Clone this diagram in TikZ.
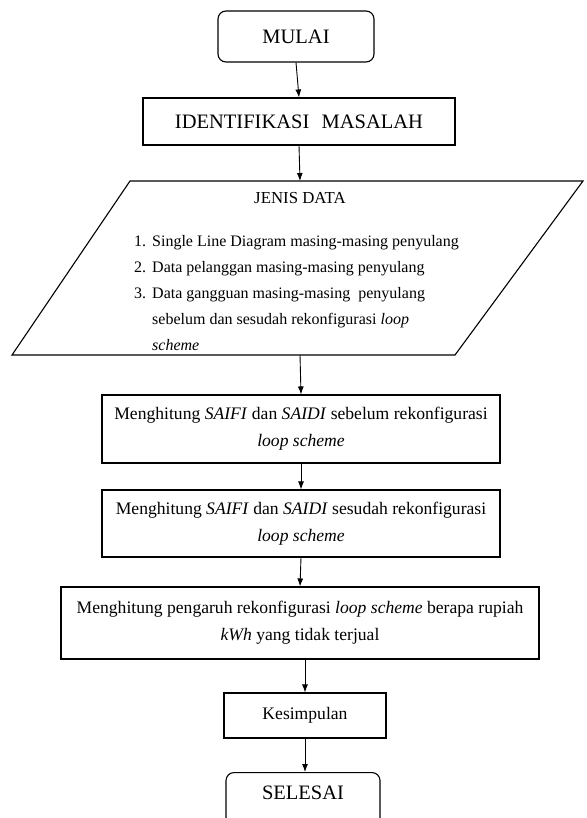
\documentclass[tikz,border=0pt]{standalone}
\usepackage{fontspec}
\setmainfont{Liberation Serif}
\usetikzlibrary{arrows.meta}
\begin{document}
\begin{tikzpicture}[x=1pt,y=1pt,
  box/.style={draw, line width=1.1pt, inner sep=0pt, align=center},
  term/.style={box, rounded corners=8pt},
  arr/.style={-{Latex[length=8pt,width=6pt]}, line width=0.9pt},
  big/.style={font=\fontsize{20.5}{24}\selectfont},
  mid/.style={font=\fontsize{17.6}{27}\selectfont}]
\useasboundingbox (0,0) rectangle (586,-818);

\node[term, big, minimum width=156pt, minimum height=51pt] (start) at (296,-36.5) {MULAI};
\node[box, big, minimum width=312pt, minimum height=47pt] (ident) at (299,-121.5) {IDENTIFIKASI\hspace{0.6em}MASALAH};

% parallelogram
\coordinate (ptl) at (130,-181);
\coordinate (ptr) at (583,-181);
\coordinate (pbr) at (455,-355);
\coordinate (pbl) at (12,-355);
\draw[line width=1.1pt] (ptl) -- (ptr) -- (pbr) -- (pbl) -- cycle;
\coordinate (pin) at (300,-181);
\coordinate (pout) at (300,-355);
\node[font=\fontsize{16.8}{18}\selectfont] (jtitle) at (300,-198) {JENIS DATA};
\node[anchor=north west, inner sep=0pt, font=\fontsize{16}{26}\selectfont] (jlist) at (134,-228)
 {\begin{tabular}{@{}r@{\hspace{6pt}}l@{}}
  1. & Single Line Diagram masing-masing penyulang\\
  2. & Data pelanggan masing-masing penyulang\\
  3. & Data gangguan masing-masing\ \ penyulang\\
     & sebelum dan sesudah rekonfigurasi \textit{loop}\\
     & \textit{scheme}
  \end{tabular}};

\node[box, mid, minimum width=398pt, minimum height=68pt] (b1) at (301,-429)
 {Menghitung \textit{SAIFI} dan \textit{SAIDI} sebelum rekonfigurasi\\ \textit{loop scheme}};
\node[box, mid, minimum width=398pt, minimum height=67pt] (b2) at (301,-523.5)
 {Menghitung \textit{SAIFI} dan \textit{SAIDI} sesudah rekonfigurasi\\ \textit{loop scheme}};
\node[box, mid, minimum width=478pt, minimum height=72pt] (b3) at (300,-623)
 {Menghitung pengaruh rekonfigurasi \textit{loop scheme} berapa rupiah\\ \textit{kWh} yang tidak terjual};
\node[box, mid, minimum width=162pt, minimum height=45pt] (kes) at (305,-715.5) {Kesimpulan};
\node[term, big, minimum width=154pt, text height=27pt, text depth=40pt, anchor=north] (end) at (303,-772) {SELESAI};

\draw[arr] (start.south) -- (ident.north);
\draw[arr] (ident.south) -- (pin);
\draw[arr] (pout) -- (b1.north);
\draw[arr] (b1.south) -- (b2.north);
\draw[arr] (b2.south) -- (b3.north);
\draw[arr] (b3.south -| kes.north) -- (kes.north);
\draw[arr] (kes.south) -- (kes.south |- end.north);
\end{tikzpicture}
\end{document}
